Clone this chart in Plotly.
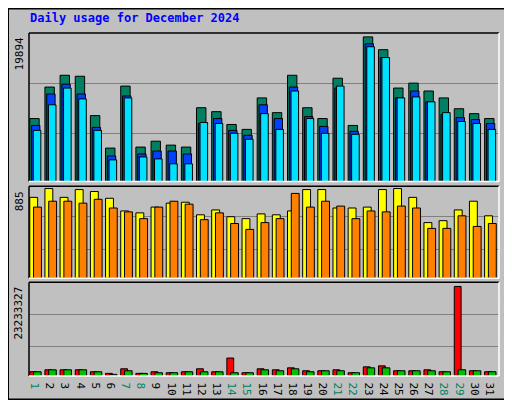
import plotly.graph_objects as go

days = list(range(1, 32))
weekend = [1, 7, 8, 14, 15, 21, 22, 28, 29]
hits = [8660,12990,14614,14480,9066,4600,13126,4736,5548,5007,4736,10150,9608,7849,7172,11502,9473,14614,10150,8660,14210,7713,19894,18134,12856,13533,12450,11502,10014,9337,8660]
files = [7713,12044,13397,12044,7443,3519,11773,3789,4195,4195,3789,7984,8660,7037,6360,10555,8660,12990,8932,7578,12856,6902,18945,17051,11502,12450,10961,9202,8796,8525,7984]
pages = [7037,10555,12856,11367,7037,2977,11502,3383,3113,2436,2436,8120,7984,6631,5819,9337,7172,12450,8660,6631,13126,6496,18540,17051,11502,11638,10961,9473,8255,7984,7172]
visits = [798,885,798,875,856,789,664,645,702,741,750,626,674,607,588,635,626,664,875,875,693,693,702,875,885,798,549,568,674,760,616]
sites = [702,760,760,741,779,693,655,588,702,760,731,578,645,540,482,549,588,837,702,760,712,588,664,655,712,693,492,492,616,511,540]
kb_f = [1.10e6,1.61e6,1.61e6,1.61e6,1.10e6,0.68e6,1.87e6,0.68e6,1.10e6,0.85e6,1.10e6,1.87e6,1.10e6,4.66e6,0.85e6,1.87e6,1.61e6,2.12e6,1.36e6,1.36e6,1.61e6,0.85e6,2.37e6,2.63e6,1.36e6,1.36e6,1.61e6,1.10e6,23233327,1.36e6,1.10e6]
kb_out = [1.10e6,1.61e6,1.61e6,1.61e6,1.10e6,0.42e6,1.36e6,0.68e6,0.85e6,0.85e6,1.10e6,1.10e6,1.10e6,0.85e6,0.85e6,1.61e6,1.36e6,1.87e6,1.10e6,1.36e6,1.36e6,0.85e6,2.12e6,2.12e6,1.36e6,1.36e6,1.36e6,1.10e6,1.61e6,1.36e6,1.10e6]

fig = go.Figure()
line = dict(color="black", width=1)

def bar(y, color, ax, off, w):
    fig.add_trace(go.Bar(x=days, y=y, marker=dict(color=color, line=line),
                         offset=off, width=w, xaxis="x", yaxis=ax, showlegend=False))

bar(hits, "#008060", "y", -0.45, 0.62)
bar(files, "#0040ff", "y", -0.33, 0.55)
bar(pages, "#00e0ff", "y", -0.22, 0.5)
bar(visits, "#ffff00", "y2", -0.45, 0.52)
bar(sites, "#ff8000", "y2", -0.2, 0.52)
bar(kb_f, "#ff0000", "y3", -0.45, 0.45)
bar(kb_out, "#00c000", "y3", -0.2, 0.5)

ticktext = [f"<span style='color:#008060'>{d}</span>" if d in weekend else str(d) for d in days]
mono = "DejaVu Sans Mono"
grid = dict(showgrid=True, gridcolor="#808080", gridwidth=1, zeroline=False,
            showticklabels=False, ticks="", fixedrange=True)
fig.update_layout(
    width=512, height=400, margin=dict(l=21, r=21, t=25, b=24),
    paper_bgcolor="#c0c0c0", plot_bgcolor="#c0c0c0", barmode="overlay",
    font=dict(family=mono, size=11, color="black"),
    xaxis=dict(range=[0.5, 31.5], tickvals=days, ticktext=ticktext, showgrid=False,
               ticks="", tickfont=dict(size=11), zeroline=False, anchor="y3"),
    yaxis=dict(domain=[0.567, 1], range=[0, 20430], tickvals=[6630, 13530], **grid),
    yaxis2=dict(domain=[0.285, 0.553], range=[0, 907], tickvals=[287, 607], **grid),
    yaxis3=dict(domain=[0, 0.2735], range=[0, 24340000], tickvals=[7.55e6, 15.86e6], **grid),
)

shapes = [dict(type="rect", xref="paper", yref="paper", x0=-21/470, x1=1+21/470,
               y0=-24/351, y1=1+25/351, line=dict(color="black", width=2))]
for y0, y1 in [(0.567, 1), (0.285, 0.553), (0, 0.2735)]:
    shapes += [
        dict(type="line", xref="paper", yref="paper", x0=0, x1=1, y0=y1, y1=y1, line=dict(color="black", width=1.5)),
        dict(type="line", xref="paper", yref="paper", x0=0, x1=0, y0=y0, y1=y1, line=dict(color="black", width=1.5)),
        dict(type="line", xref="paper", yref="paper", x0=0, x1=1, y0=y0, y1=y0, line=dict(color="white", width=1.5)),
        dict(type="line", xref="paper", yref="paper", x0=1, x1=1, y0=y0, y1=y1, line=dict(color="white", width=1.5)),
    ]
fig.update_layout(shapes=shapes)

fig.add_annotation(text="<b>Daily usage for December 2024</b>", xref="paper", yref="paper",
                   x=-1/470, y=1+15/351, xanchor="left", yanchor="middle", showarrow=False,
                   font=dict(color="#0000ff", size=12, family=mono))
for txt, yy in [("19894", 1), ("885", 0.553), ("23233327", 0.2735)]:
    fig.add_annotation(text=txt, xref="paper", yref="paper", x=-10/470, y=yy - 3/351,
                       xanchor="center", yanchor="top", textangle=-90, showarrow=False,
                       font=dict(size=11, family=mono))
right = [
    ("<span style='color:#00e0ff'>Pages</span> / <span style='color:#0040ff'>Files</span> / <span style='color:#008060'>Hits</span>", 1),
    ("<span style='color:#ff8000'>Sites</span> / <span style='color:#ffff00'>Visits</span>", 0.553),
    ("<span style='color:#ff0000'>kB F</span> / <span style='color:#0080ff'>kB In</span> / <span style='color:#00c000'>kB Out</span>", 0.2735),
]
for txt, yy in right:
    fig.add_annotation(text=txt, xref="paper", yref="paper", x=1 + 10/470, y=yy,
                       xanchor="center", yanchor="top", textangle=-90, showarrow=False,
                       font=dict(size=11, family=mono, color="#404040"))
fig.write_html("out.html")
